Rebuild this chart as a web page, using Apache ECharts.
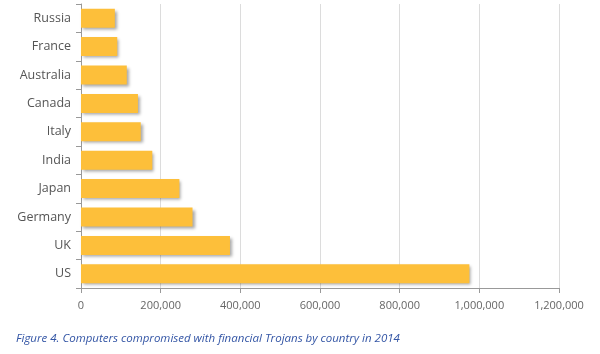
<!DOCTYPE html>
<html lang="en">
<head>
    <meta charset="UTF-8">
    <title>Computers compromised with financial Trojans by country in 2014</title>
    <script src="https://cdn.jsdelivr.net/npm/echarts/dist/echarts.min.js"></script>
    <style>
        body {
            margin: 0;
            background: #fff;
        }

        #chart {
            width: 600px;
            height: 354px;
        }
    </style>
</head>
<body>

    <div id="chart"></div>

    <script>
        // top to bottom as in the picture
        var countries = ['Russia', 'France', 'Australia', 'Canada', 'Italy', 'India', 'Japan', 'Germany', 'UK', 'US'];
        var computers = [85000, 91000, 115000, 143000, 150000, 179000, 247000, 280000, 374000, 975000];
        var caption = 'Figure 4. Computers compromised with financial Trojans by country in 2014';

        var myChart = echarts.init(document.getElementById('chart'));

        myChart.setOption({
            animation: false,
            grid: { left: 81, right: 41, top: 4, bottom: 66 },
            title: {
                text: caption,
                left: 11,
                top: 328,
                textStyle: {
                    fontFamily: 'Open Sans',
                    fontStyle: 'italic',
                    fontWeight: 'normal',
                    fontSize: 11.5,
                    color: '#3355a5'
                }
            },
            xAxis: {
                type: 'value',
                min: 0,
                max: 1200000,
                interval: 200000,
                axisLine: { show: true, lineStyle: { color: '#999' } },
                axisTick: { show: true, length: 5, lineStyle: { color: '#999' } },
                splitLine: { lineStyle: { color: '#dcdcdc' } },
                axisLabel: {
                    color: '#666',
                    fontFamily: 'Open Sans',
                    fontSize: 11,
                    margin: 12,
                    formatter: function (v) {
                        return v.toLocaleString('en-US');
                    }
                }
            },
            yAxis: {
                type: 'category',
                inverse: true,
                data: countries,
                axisLine: { show: true, lineStyle: { color: '#999' } },
                axisTick: { show: true, length: 5, lineStyle: { color: '#999' } },
                axisLabel: {
                    color: '#555',
                    fontFamily: 'Open Sans',
                    fontSize: 12.5,
                    margin: 10
                }
            },
            series: [{
                type: 'bar',
                data: computers,
                barWidth: 19,
                itemStyle: {
                    color: '#fdbf3a',
                    shadowColor: 'rgba(0, 0, 0, 0.35)',
                    shadowBlur: 3,
                    shadowOffsetX: 2,
                    shadowOffsetY: 2
                }
            }]
        });
    </script>

</body>
</html>
